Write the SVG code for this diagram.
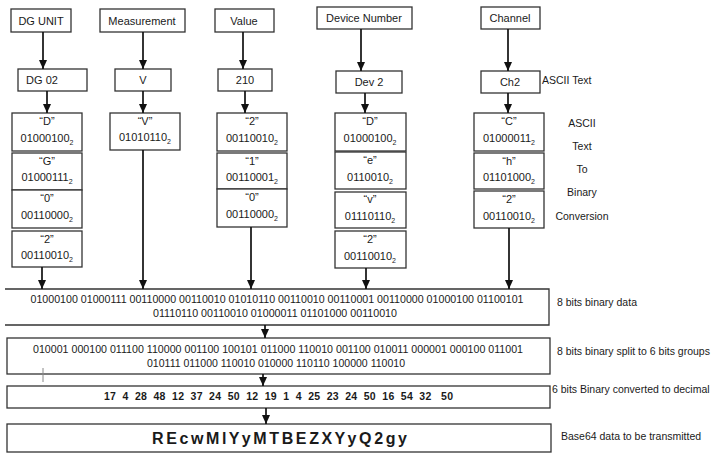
<svg xmlns="http://www.w3.org/2000/svg" width="718" height="456" viewBox="0 0 718 456">
<style>
text{font-family:"Liberation Sans",Arial,sans-serif;fill:#1a1a1a;}
.b{fill:#fff;stroke:#333;stroke-width:1.3;}
.t{font-size:11px;text-anchor:middle;}
.s{font-size:7px;}
.lbl{font-size:10.5px;}
.bin{font-size:10.5px;text-anchor:middle;}
.c{stroke:#111;stroke-width:1.7;fill:none;marker-end:url(#ah);}
</style>
<defs>
<marker id="ah" markerUnits="userSpaceOnUse" markerWidth="9" markerHeight="8" refX="9" refY="4" orient="auto" viewBox="0 0 9 8">
<path d="M0,0 L9,4 L0,8 Z" fill="#111"/>
</marker>
</defs>
<rect width="718" height="456" fill="#fff"/>

<g id="dg-unit"><rect class="b" x="11" y="9" width="60" height="23"/><text class="t" x="41" y="25">DG UNIT</text></g>
<g id="measurement"><rect class="b" x="100" y="9" width="85" height="23"/><text class="t" x="142" y="25">Measurement</text></g>
<g id="value"><rect class="b" x="215" y="9" width="59" height="23"/><text class="t" x="244" y="25">Value</text></g>
<g id="device-number"><rect class="b" x="317" y="7" width="95" height="22"/><text class="t" x="364" y="22">Device Number</text></g>
<g id="channel"><rect class="b" x="481" y="7" width="59" height="22"/><text class="t" x="510" y="22">Channel</text></g>

<g id="dg02"><rect class="b" x="18" y="69" width="69" height="22"/><text class="t" x="42" y="84">DG 02</text></g>
<g id="v"><rect class="b" x="115" y="69" width="56" height="22"/><text class="t" x="143" y="84">V</text></g>
<g id="v210"><rect class="b" x="218" y="69" width="54" height="22"/><text class="t" x="245" y="84">210</text></g>
<g id="dev2"><rect class="b" x="336" y="71" width="66" height="22"/><text class="t" x="369" y="86">Dev 2</text></g>
<g id="ch2"><rect class="b" x="481" y="71" width="59" height="22"/><text class="t" x="510" y="86">Ch2</text></g>
<g id="ascii-text-label"><text class="lbl" x="542" y="84">ASCII Text</text></g>

<g id="dg-D"><rect class="b" x="12" y="113" width="70" height="38"/><text class="t" x="47" y="125">“D”</text><text class="t" x="47" y="142">01000100<tspan class="s" dy="3">2</tspan></text></g>
<g id="dg-G"><rect class="b" x="12" y="153" width="70" height="37"/><text class="t" x="47" y="165">“G”</text><text class="t" x="47" y="181">01000111<tspan class="s" dy="3">2</tspan></text></g>
<g id="dg-0"><rect class="b" x="12" y="190" width="70" height="38"/><text class="t" x="47" y="202">“0”</text><text class="t" x="47" y="219">00110000<tspan class="s" dy="3">2</tspan></text></g>
<g id="dg-2"><rect class="b" x="12" y="231" width="70" height="36"/><text class="t" x="47" y="243">“2”</text><text class="t" x="47" y="259">00110010<tspan class="s" dy="3">2</tspan></text></g>

<g id="m-V"><rect class="b" x="110" y="113" width="70" height="37"/><text class="t" x="145" y="125">“V”</text><text class="t" x="145" y="141">01010110<tspan class="s" dy="3">2</tspan></text></g>

<g id="v-2"><rect class="b" x="217" y="113" width="70" height="38"/><text class="t" x="252" y="125">“2”</text><text class="t" x="252" y="142">00110010<tspan class="s" dy="3">2</tspan></text></g>
<g id="v-1"><rect class="b" x="217" y="153" width="70" height="36"/><text class="t" x="252" y="165">“1”</text><text class="t" x="252" y="181">00110001<tspan class="s" dy="3">2</tspan></text></g>
<g id="v-0"><rect class="b" x="217" y="189" width="70" height="38"/><text class="t" x="252" y="201">“0”</text><text class="t" x="252" y="218">00110000<tspan class="s" dy="3">2</tspan></text></g>

<g id="d-D"><rect class="b" x="335" y="113" width="71" height="38"/><text class="t" x="370" y="125">“D”</text><text class="t" x="370" y="142">01000100<tspan class="s" dy="3">2</tspan></text></g>
<g id="d-e"><rect class="b" x="335" y="152" width="71" height="37"/><text class="t" x="370" y="164">“e”</text><text class="t" x="370" y="181">0110010<tspan class="s" dy="3">2</tspan></text></g>
<g id="d-v"><rect class="b" x="335" y="192" width="71" height="36"/><text class="t" x="370" y="203">“v”</text><text class="t" x="370" y="220">01110110<tspan class="s" dy="3">2</tspan></text></g>
<g id="d-2"><rect class="b" x="335" y="231" width="71" height="37"/><text class="t" x="370" y="243">“2”</text><text class="t" x="370" y="260">00110010<tspan class="s" dy="3">2</tspan></text></g>

<g id="c-C"><rect class="b" x="474" y="113" width="70" height="38"/><text class="t" x="509" y="125">“C”</text><text class="t" x="509" y="142">01000011<tspan class="s" dy="3">2</tspan></text></g>
<g id="c-h"><rect class="b" x="474" y="153" width="70" height="36"/><text class="t" x="509" y="165">“h”</text><text class="t" x="509" y="181">01101000<tspan class="s" dy="3">2</tspan></text></g>
<g id="c-2"><rect class="b" x="474" y="191" width="70" height="37"/><text class="t" x="509" y="203">“2”</text><text class="t" x="509" y="220">00110010<tspan class="s" dy="3">2</tspan></text></g>

<g id="conversion-label">
<text class="lbl" x="582" y="127" text-anchor="middle">ASCII</text>
<text class="lbl" x="582" y="150" text-anchor="middle">Text</text>
<text class="lbl" x="582" y="173" text-anchor="middle">To</text>
<text class="lbl" x="582" y="196" text-anchor="middle">Binary</text>
<text class="lbl" x="582" y="220" text-anchor="middle">Conversion</text>
</g>

<g id="binary-8bit">
<path d="M5,289 H549 V325 H5" fill="none" stroke="#333" stroke-width="1.3"/>
<text class="bin" x="277" y="303" textLength="493" lengthAdjust="spacingAndGlyphs">01000100 01000111 00110000 00110010 01010110 00110010 00110001 00110000 01000100 01100101</text>
<text class="bin" x="275" y="317" textLength="244" lengthAdjust="spacingAndGlyphs">01110110 00110010 01000011 01101000 00110010</text>
<text class="lbl" x="557" y="306">8 bits binary data</text>
</g>
<g id="binary-6bit">
<rect class="b" x="7" y="338" width="543" height="36"/>
<text class="bin" x="278" y="353" textLength="490" lengthAdjust="spacingAndGlyphs">010001 000100 011100 110000 001100 100101 011000 110010 001100 010011 000001 000100 011001</text>
<text class="bin" x="276" y="367" textLength="258" lengthAdjust="spacingAndGlyphs">010111 011000 110010 010000 110110 100000 110010</text>
<line x1="43" y1="368" x2="43" y2="382" stroke="#888" stroke-width="1"/>
<text class="lbl" x="557" y="355">8 bits binary split to 6 bits groups</text>
</g>
<g id="decimal">
<rect class="b" x="7" y="386" width="543" height="22"/>
<text x="104" y="400" font-size="10.5" font-weight="bold" textLength="349" lengthAdjust="spacing" xml:space="preserve">17  4  28  48  12  37  24  50  12  19  1  4  25  23  24  50  16  54  32   50</text>
<text class="lbl" x="552" y="393">6 bits Binary converted to decimal</text>
</g>
<g id="base64">
<rect class="b" x="7" y="424" width="544" height="28"/>
<text x="152" y="444" font-size="16" font-weight="bold" textLength="255" lengthAdjust="spacing">R E c w M l Y y M T B E Z X Y y Q 2 g y</text>
<text class="lbl" x="561" y="440">Base64 data to be transmitted</text>
</g>

<g id="connectors">
<line class="c" x1="43" y1="32" x2="43" y2="69"/>
<line class="c" x1="143" y1="32" x2="143" y2="69"/>
<line class="c" x1="243" y1="32" x2="243" y2="69"/>
<line class="c" x1="361" y1="29" x2="361" y2="71"/>
<line class="c" x1="508" y1="29" x2="508" y2="71"/>
<line class="c" x1="47" y1="91" x2="47" y2="113"/>
<line class="c" x1="143" y1="91" x2="143" y2="113"/>
<line class="c" x1="245" y1="91" x2="245" y2="113"/>
<line class="c" x1="365" y1="93" x2="365" y2="113"/>
<line class="c" x1="508" y1="93" x2="508" y2="113"/>
<line class="c" x1="42" y1="267" x2="42" y2="289"/>
<line class="c" x1="143" y1="150" x2="143" y2="289"/>
<line class="c" x1="251" y1="227" x2="251" y2="289"/>
<line class="c" x1="366" y1="268" x2="366" y2="289"/>
<line class="c" x1="509" y1="228" x2="509" y2="289"/>
<line class="c" x1="265" y1="325" x2="265" y2="338"/>
<line class="c" x1="263" y1="374" x2="263" y2="386"/>
<line class="c" x1="266" y1="408" x2="266" y2="424"/>
</g>
</svg>
